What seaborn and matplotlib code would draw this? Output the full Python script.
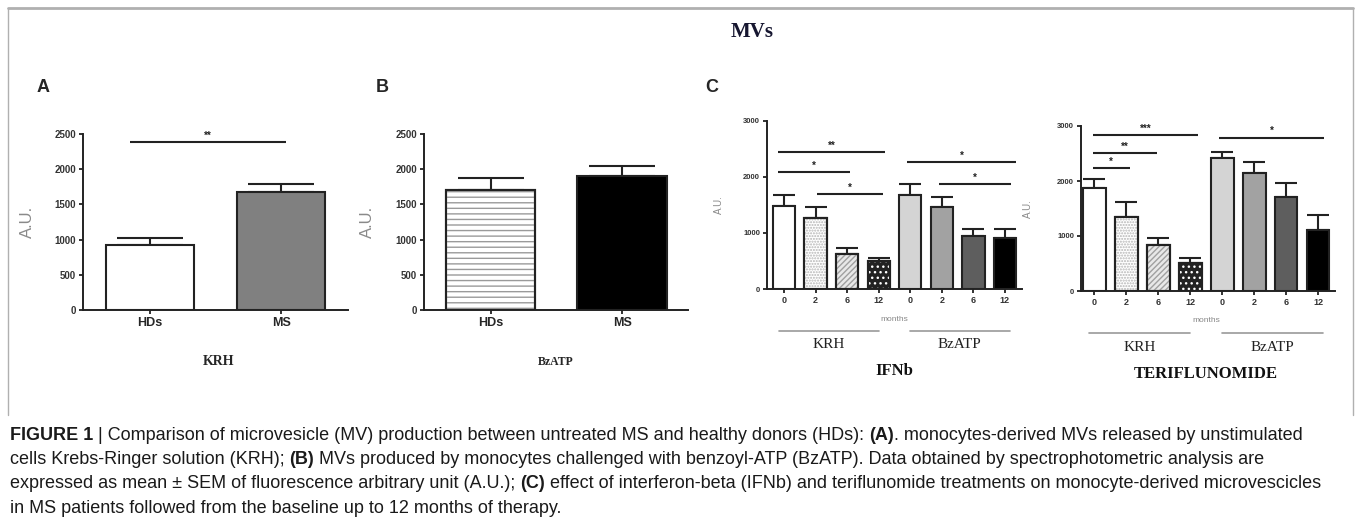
import matplotlib
matplotlib.use("Agg")
import matplotlib.pyplot as plt
from matplotlib import font_manager
from matplotlib.lines import Line2D
from matplotlib.patches import Rectangle
import seaborn as sns

# Painéis A e B: HDs vs MS
ab_groups = ["HDs", "MS"]
krh_mean = [920, 1670]
krh_sem = [100, 120]
bzatp_mean = [1700, 1900]
bzatp_sem = [180, 140]

# Painel C: meses de tratamento
months = ["0", "2", "6", "12"]
ifnb_krh_mean = [1480, 1270, 630, 500]
ifnb_krh_sem = [200, 190, 95, 50]
ifnb_bz_mean = [1680, 1465, 950, 915]
ifnb_bz_sem = [195, 175, 120, 155]
teri_krh_mean = [1870, 1340, 835, 505]
teri_krh_sem = [165, 275, 130, 95]
teri_bz_mean = [2420, 2145, 1705, 1105]
teri_bz_sem = [105, 200, 255, 275]

# significancia: (de, ate, altura, texto)
sig_a = [(-0.15, 1.04, 2390, "**")]
sig_ifnb = [(-0.2, 3.2, 2450, "**"), (-0.2, 2.1, 2090, "*"), (1.05, 3.15, 1700, "*"),
            (3.9, 7.35, 2270, "*"), (4.9, 7.2, 1875, "*")]
sig_teri = [(-0.05, 3.25, 2830, "***"), (-0.05, 1.95, 2510, "**"), (-0.05, 1.1, 2240, "*"),
            (3.9, 7.2, 2790, "*")]

caption = [
    [("FIGURE 1", True), (" | Comparison of microvesicle (MV) production between untreated MS and healthy donors (HDs): ", False),
     ("(A)", True), (". monocytes-derived MVs released by unstimulated", False)],
    [("cells Krebs-Ringer solution (KRH); ", False), ("(B)", True),
     (" MVs produced by monocytes challenged with benzoyl-ATP (BzATP). Data obtained by spectrophotometric analysis are", False)],
    [("expressed as mean \u00b1 SEM of fluorescence arbitrary unit (A.U.); ", False), ("(C)", True),
     (" effect of interferon-beta (IFNb) and teriflunomide treatments on monocyte-derived microvescicles", False)],
    [("in MS patients followed from the baseline up to 12 months of therapy.", False)],
]

W, H = 1357, 519
sns.set_style("ticks")
names = {f.name for f in font_manager.fontManager.ttflist}
narrow = "Liberation Sans Narrow" if "Liberation Sans Narrow" in names else "Liberation Sans"
plt.rcParams["font.family"] = ["Liberation Sans", "DejaVu Sans"]
plt.rcParams["hatch.linewidth"] = 1.0
EDGE = "#222222"


def rect(l, t, r, b):
    return [l / W, 1 - b / H, (r - l) / W, (b - t) / H]


def style_axis(ax, ymax, step, tick_fs, label_fs, ylab_x):
    ax.set_ylim(0, ymax)
    ax.set_yticks(range(0, ymax + 1, step))
    sns.despine(ax=ax)
    for s in ["left", "bottom"]:
        ax.spines[s].set_linewidth(1.4)
        ax.spines[s].set_color(EDGE)
    ax.tick_params(axis="both", length=3, width=1.3, color=EDGE, pad=2)
    ax.tick_params(axis="y", labelsize=tick_fs)
    for t in ax.get_yticklabels():
        t.set_fontweight("bold")
        t.set_color("#333333")
        t.set_family(narrow)
    ax.set_xlabel("")
    ax.set_ylabel("A.U.", fontsize=label_fs, color="#8a8a8a")
    ax.yaxis.set_label_coords(ylab_x, 0.5)


def add_errors(ax, sem, capsize):
    xs = [p.get_x() + p.get_width() / 2 for p in ax.patches]
    hs = [p.get_height() for p in ax.patches]
    ax.errorbar(xs, hs, yerr=[[0] * len(sem), sem], fmt="none", ecolor=EDGE,
                elinewidth=1.5, capsize=capsize, capthick=1.5, zorder=1)
    for p in ax.patches:
        p.set_zorder(2)


def overlay_hatch(ax, idx, hatch, color, face=None):
    p = ax.patches[idx]
    if face is not None:
        p.set_facecolor(face)
    r = Rectangle((p.get_x(), 0), p.get_width(), p.get_height(), facecolor="none",
                  edgecolor=color, hatch=hatch, linewidth=0, zorder=2.5)
    ax.add_patch(r)
    edge = Rectangle((p.get_x(), 0), p.get_width(), p.get_height(), facecolor="none",
                     edgecolor=EDGE, linewidth=1.5, zorder=2.6)
    ax.add_patch(edge)


def add_sig(ax, sigs, fs, gap):
    for x0, x1, y, txt in sigs:
        ax.plot([x0, x1], [y, y], color=EDGE, lw=1.5, clip_on=False, solid_capstyle="butt")
        ax.text((x0 + x1) / 2, y + gap, txt, ha="center", va="bottom", fontsize=fs,
                fontweight="bold", color=EDGE, clip_on=False)


fig = plt.figure(figsize=(W / 100, H / 100), dpi=100)

# ---- Painel A ----
axA = fig.add_axes(rect(83, 134, 348, 310))
sns.barplot(x=ab_groups, y=krh_mean, hue=ab_groups, palette=["white", "#808080"], legend=False,
            saturation=1, width=0.67, edgecolor=EDGE, linewidth=1.5, ax=axA)
axA.set_xlim(-0.51, 1.51)
add_errors(axA, krh_sem, 24)
style_axis(axA, 2500, 500, 7, 12, -0.18)
axA.tick_params(axis="x", labelsize=9)
for t in axA.get_xticklabels():
    t.set_fontweight("bold")
add_sig(axA, sig_a, 7, 15)
axA.text(0.51, -0.295, "KRH", transform=axA.transAxes, ha="center", va="center",
         fontsize=10, fontweight="bold", family="Liberation Serif")

# ---- Painel B ----
axB = fig.add_axes(rect(424, 134, 688, 310))
sns.barplot(x=ab_groups, y=bzatp_mean, hue=ab_groups, palette=["white", "black"], legend=False,
            saturation=1, width=0.68, edgecolor=EDGE, linewidth=1.5, ax=axB)
axB.set_xlim(-0.506, 1.5)
add_errors(axB, bzatp_sem, 24)
overlay_hatch(axB, 0, "---", "#9a9a9a")
style_axis(axB, 2500, 500, 7, 12, -0.185)
axB.tick_params(axis="x", labelsize=9)
for t in axB.get_xticklabels():
    t.set_fontweight("bold")
axB.text(0.50, -0.295, "BzATP", transform=axB.transAxes, ha="center", va="center",
         fontsize=8.5, fontweight="bold", family="Liberation Serif")

# ---- Painel C ----
c_colors = ["white", "white", "white", "#222222", "#d4d4d4", "#a2a2a2", "#5e5e5e", "black"]


def panel_c(box, krh_m, krh_s, bz_m, bz_s, sigs, title, xlim, ylab_x, geo):
    ax = fig.add_axes(rect(*box))
    cats = ["KRH " + m for m in months] + ["BzATP " + m for m in months]
    sns.barplot(x=cats, y=krh_m + bz_m, hue=cats, palette=c_colors, legend=False, saturation=1,
                width=0.71, edgecolor=EDGE, linewidth=1.5, ax=ax)
    ax.set_xlim(*xlim)
    add_errors(ax, krh_s + bz_s, 8)
    overlay_hatch(ax, 1, "......", "#b5b5b5")
    overlay_hatch(ax, 2, "//////", "#a0a0a0", face="#e8e8e8")
    overlay_hatch(ax, 3, "...", "white")
    style_axis(ax, 3000, 1000, 5.5, 7, ylab_x)
    ax.set_xticks(range(len(cats)))
    ax.set_xticklabels(months + months)
    ax.tick_params(axis="x", labelsize=6.5)
    for t in ax.get_xticklabels():
        t.set_fontweight("bold")
        t.set_color("#333333")
    add_sig(ax, sigs, 7, 25)
    tr = ax.get_xaxis_transform()
    ly, gy, my, ty = geo
    ax.text(3.5, my, "months", transform=tr, ha="center", va="center", fontsize=6, color="#888888")
    for (x0, x1), name in zip([(-0.16, 3.0), (3.98, 7.15)], ["KRH", "BzATP"]):
        ax.plot([x0, x1], [ly, ly], transform=tr, color="#9a9a9a", lw=1.2, clip_on=False)
        ax.text((x0 + x1) / 2, gy, name, transform=tr, ha="center", va="center",
                fontsize=11, family="Liberation Serif", color="#222222")
    ax.text(3.5, ty, title, transform=tr, ha="center", va="center", fontsize=12,
            fontweight="bold", family="Liberation Serif", color="#111111")
    return ax


panel_c((767, 121, 1022, 289), ifnb_krh_mean, ifnb_krh_sem, ifnb_bz_mean, ifnb_bz_sem,
        sig_ifnb, "IFNb", (-0.54, 7.54), -0.17, (-0.25, -0.333, -0.18, -0.49))
panel_c((1081, 126, 1335, 291), teri_krh_mean, teri_krh_sem, teri_bz_mean, teri_bz_sem,
        sig_teri, "TERIFLUNOMIDE", (-0.42, 7.53), -0.19, (-0.255, -0.34, -0.176, -0.50))

# ---- titulo, letras e moldura ----
fig.text(752 / W, 1 - 32 / H, "MVs", ha="center", va="center", fontsize=15, fontweight="bold",
         family="Liberation Serif", color="#161630")
for x, letter in [(43, "A"), (382, "B"), (712, "C")]:
    fig.text(x / W, 1 - 87 / H, letter, ha="center", va="center", fontsize=13, fontweight="bold")

frame = dict(color="#b0b0b0", transform=fig.transFigure)
fig.add_artist(Line2D([8 / W, 1353 / W], [1 - 8 / H, 1 - 8 / H], lw=2, **frame))
fig.add_artist(Line2D([8 / W, 8 / W], [1 - 8 / H, 1 - 415 / H], lw=1, **frame))
fig.add_artist(Line2D([1353 / W, 1353 / W], [1 - 8 / H, 1 - 415 / H], lw=1, **frame))

# ---- legenda (texto com partes em negrito) ----
renderer = fig.canvas.get_renderer()
for i, line in enumerate(caption):
    x = 10
    y = 1 - (435 + i * 24.5) / H
    for txt, bold in line:
        t = fig.text(x / W, y, txt, ha="left", va="center", fontsize=13, family=narrow,
                     fontweight="bold" if bold else "normal", color="#1a1a1a")
        x += t.get_window_extent(renderer).width

fig.savefig("out.png", dpi=100)
